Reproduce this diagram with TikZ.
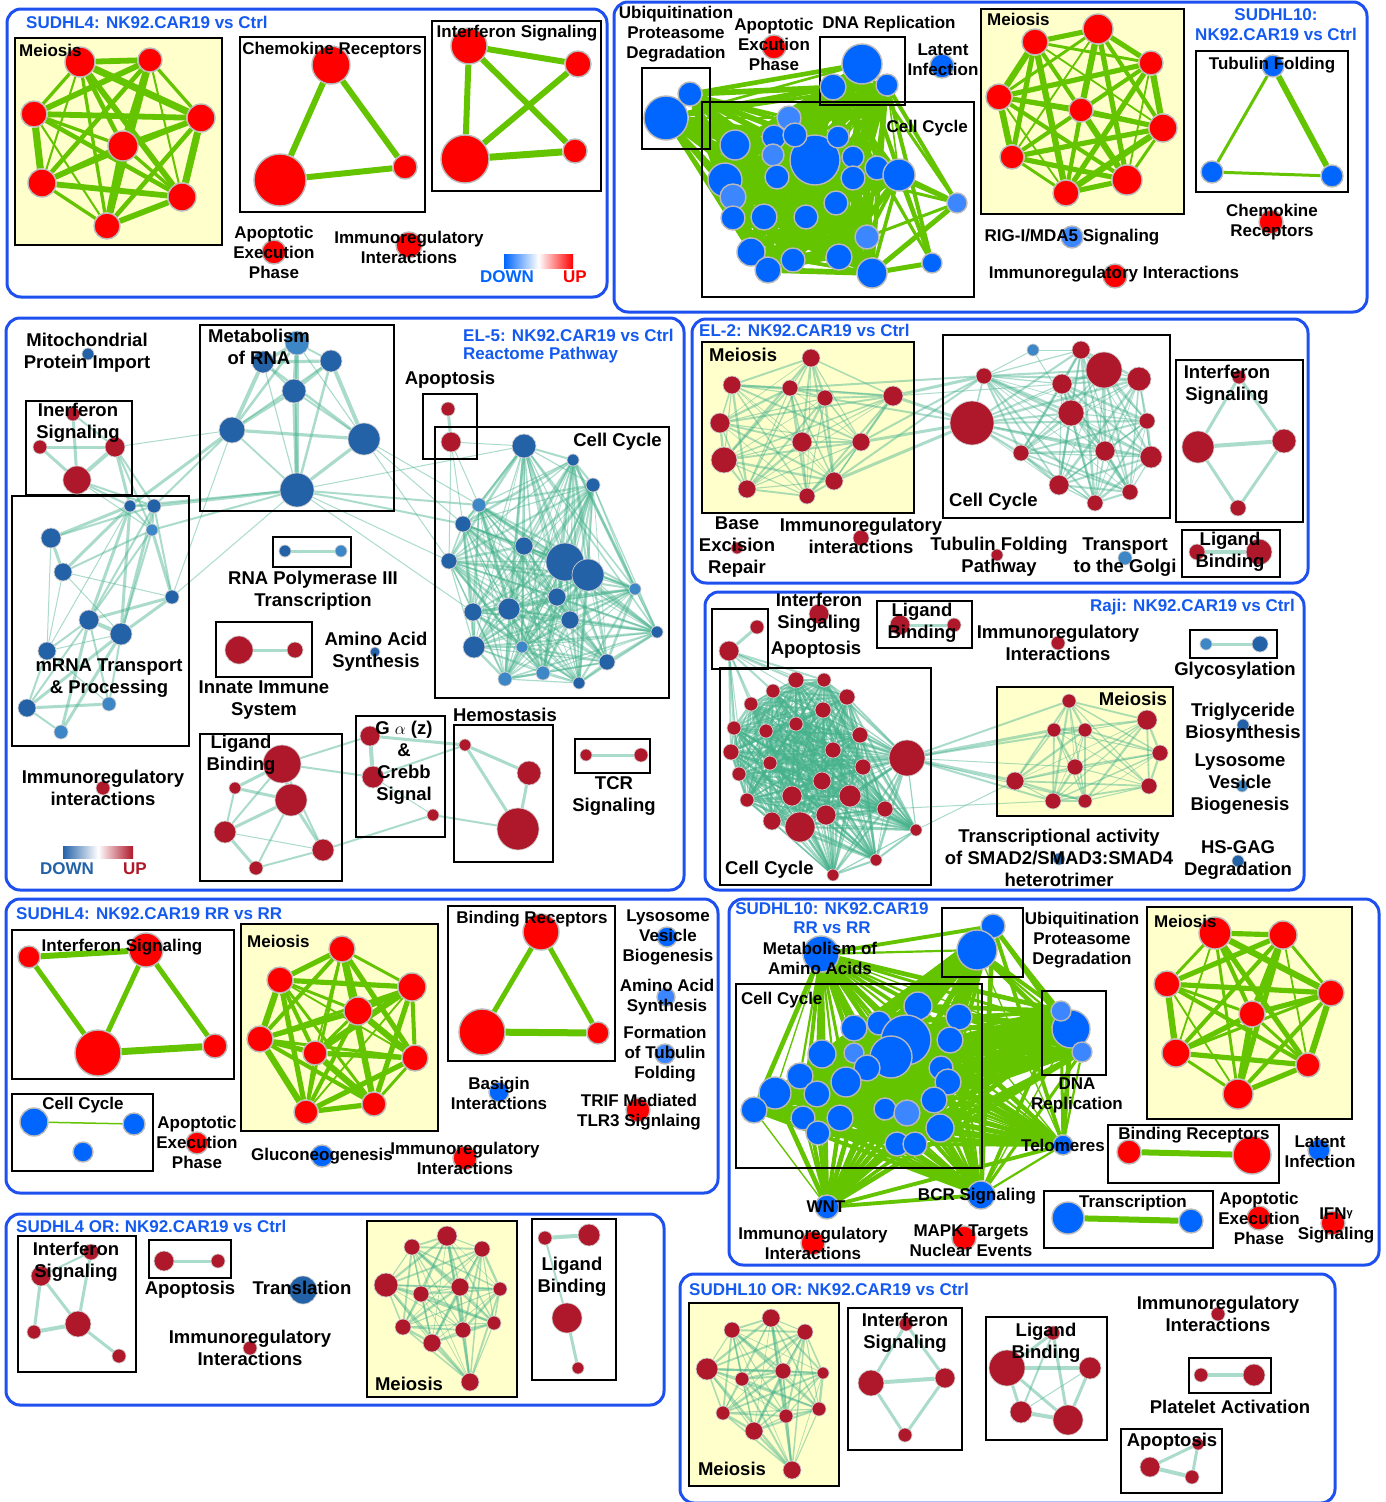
\documentclass[tikz,border=0pt]{standalone}
\usepackage{fontspec}
\setmainfont{Liberation Sans}
\pgfdeclarelayer{bgl}
\pgfdeclarelayer{edl}
\pgfsetlayers{bgl,edl,main}
\definecolor{panblue}{RGB}{30,80,240}
\definecolor{ttlblue}{RGB}{20,90,240}
\definecolor{meiyel}{RGB}{255,255,204}
\definecolor{rred}{RGB}{255,0,0}
\definecolor{bblue}{RGB}{0,102,255}
\definecolor{lblue}{RGB}{60,135,255}
\definecolor{dred}{RGB}{175,24,42}
\definecolor{dblue}{RGB}{36,98,168}
\definecolor{dlblue}{RGB}{62,135,198}
\definecolor{nbord}{RGB}{185,185,185}
\definecolor{dbord}{RGB}{205,205,205}
\definecolor{gedge}{RGB}{100,196,0}
\definecolor{tedge}{RGB}{70,178,140}
\newcommand\gnd[5]{\node[#5,minimum size=#4*2pt] (#1) at (#2,#3) {};}
\newcommand\clq[3]{\foreach \a [count=\i] in {#1}{\foreach \b [count=\j] in {#1}{\ifnum\j>\i\relax\pgfmathsetmacro\w{#3*(0.45+0.28*mod(\i*2+\j*3,5))}\draw[#2,line width=\w pt] (\a) -- (\b);\fi}}}
\newcommand\eds[2]{\foreach \a/\b/\w in {#2}{\draw[#1,line width=\w pt] (\a) -- (\b);}}
\begin{document}
\begin{tikzpicture}[x=1pt,y=-1pt,
 pan/.style={draw=panblue,line width=3pt,rounded corners=14pt},
 box/.style={draw=black,line width=2.2pt},
 ttl/.style={text=ttlblue,font=\fontsize{17}{20}\selectfont\bfseries,inner sep=0pt},
 lab/.style={font=\fontsize{17}{20}\selectfont\bfseries,align=center,inner sep=0pt},
 labl/.style={font=\fontsize{18.5}{22}\selectfont\bfseries,align=center,inner sep=0pt},
 gnode/.style={circle,inner sep=0pt,draw=nbord,line width=1.4pt},
 rn/.style={gnode,fill=rred}, bn/.style={gnode,fill=bblue}, bl/.style={gnode,fill=lblue},
 dnode/.style={circle,inner sep=0pt,draw=dbord,line width=0.7pt},
 dr/.style={dnode,fill=dred}, db/.style={dnode,fill=dblue}, dl/.style={dnode,fill=dlblue},
 ge/.style={draw=gedge},
 te/.style={draw=tedge,opacity=0.45},
 ted/.style={draw=tedge,opacity=0.55}]
\useasboundingbox (0,0) rectangle (1386,1502);
\begin{pgfonlayer}{bgl}
\fill[white] (0,0) rectangle (1386,1502);
\fill[meiyel] (15,38) rectangle (222,245);
\fill[meiyel] (981,9) rectangle (1184,214);
\fill[meiyel] (702,342) rectangle (914,513);
\fill[meiyel] (997,687) rectangle (1173,816);
\fill[meiyel] (241,924) rectangle (438,1131);
\fill[meiyel] (1147,907) rectangle (1352,1119);
\fill[meiyel] (367,1221) rectangle (517,1397);
\fill[meiyel] (689,1303) rectangle (839,1486);
\end{pgfonlayer}

%%%%%%%%%%%%%%%% Panel 1
\draw[pan] (7,9) rectangle (607,297);
\draw[box] (15,38) rectangle (222,245);
\draw[box] (240,37) rectangle (425,212);
\draw[box] (432,21) rectangle (601,191);
\gnd{a1}{80}{62}{15}{rn}\gnd{a2}{150}{60}{12}{rn}\gnd{a3}{34}{114}{13}{rn}\gnd{a4}{201}{118}{14}{rn}
\gnd{a5}{123}{146}{15}{rn}\gnd{a6}{42}{183}{14}{rn}\gnd{a7}{182}{197}{14}{rn}\gnd{a8}{107}{226}{13}{rn}
\gnd{a9}{331}{65}{19}{rn}\gnd{a10}{280}{180}{26}{rn}\gnd{a11}{405}{167}{12}{rn}
\gnd{a12}{469}{46}{18}{rn}\gnd{a13}{578}{64}{13}{rn}\gnd{a14}{465}{159}{24}{rn}\gnd{a15}{575}{151}{12}{rn}
\gnd{a16}{274}{252}{12}{rn}\gnd{a17}{409}{245}{13}{rn}
\node[ttl,anchor=west] (a-t) at (26,22) {SUDHL4: NK92.CAR19 vs Ctrl};
\node[lab,anchor=west] (a-l1) at (19,50) {Meiosis};
\node[lab] (a-l2) at (332,50) {Chemokine Receptors};
\node[lab] (a-l3) at (517,33) {Interferon Signaling};
\node[lab] (a-l4) at (274,252) {Apoptotic\\Execution\\Phase};
\node[lab] (a-l5) at (409,247) {Immunoregulatory\\Interactions};
\shade[left color=bblue,right color=rred,middle color=white] (504,254) rectangle (573,268);
\node[lab,text=bblue] (a-dn) at (507,277) {DOWN};
\node[lab,text=rred] (a-up) at (575,277) {UP};
\begin{pgfonlayer}{edl}
\clq{a1,a2,a3,a4,a5,a6,a7,a8}{ge}{4.5}
\eds{ge}{a9/a10/6,a9/a11/6,a10/a11/6,a12/a13/6,a12/a14/6,a12/a15/6,a14/a13/6,a14/a15/7}
\end{pgfonlayer}

%%%%%%%%%%%%%%%% Panel 2
\draw[pan] (614,2) rectangle (1367,312);
\draw[box] (642,68) rectangle (710,149);
\draw[box] (820,37) rectangle (905,105);
\draw[box] (702,102) rectangle (974,297);
\draw[box] (981,9) rectangle (1184,214);
\draw[box] (1196,51) rectangle (1348,192);
\gnd{bAp}{774}{47}{12}{rn}\gnd{bLa}{942}{66}{12}{bn}
\gnd{bU1}{666}{118}{22}{bn}\gnd{bU2}{690}{94}{12}{bn}
\gnd{bD1}{862}{64}{20}{bn}\gnd{bD2}{833}{87}{13}{bn}\gnd{bD3}{887}{85}{11}{bn}
\gnd{bC1}{789}{118}{12}{bl}\gnd{bC5}{815}{160}{25}{bn}\gnd{bC2}{735}{145}{15}{bn}\gnd{bC3}{774}{137}{12}{bn}
\gnd{bC4}{795}{135}{12}{bn}\gnd{bC6}{838}{137}{11}{bn}\gnd{bC7}{773}{155}{11}{bl}
\gnd{bC8}{853}{157}{11}{bn}\gnd{bC9}{877}{168}{12}{bn}\gnd{bC10}{899}{175}{16}{bn}\gnd{bC11}{725}{180}{17}{bn}
\gnd{bC12}{733}{197}{13}{bl}\gnd{bC13}{777}{177}{12}{bn}\gnd{bC14}{853}{178}{12}{bn}\gnd{bC15}{957}{203}{10}{bl}
\gnd{bC16}{733}{218}{12}{bn}\gnd{bC17}{764}{217}{13}{bn}\gnd{bC18}{806}{217}{12}{bn}\gnd{bC19}{836}{203}{12}{bn}
\gnd{bC20}{867}{237}{12}{bl}\gnd{bC21}{751}{252}{14}{bn}\gnd{bC22}{768}{270}{13}{bn}\gnd{bC23}{793}{260}{12}{bn}
\gnd{bC24}{839}{257}{13}{bn}\gnd{bC25}{872}{273}{15}{bn}\gnd{bC26}{932}{263}{10}{bn}
\gnd{bM1}{1035}{42}{13}{rn}\gnd{bM2}{1098}{29}{15}{rn}\gnd{bM3}{1151}{63}{12}{rn}\gnd{bM4}{999}{97}{13}{rn}
\gnd{bM5}{1081}{110}{12}{rn}\gnd{bM6}{1163}{128}{14}{rn}\gnd{bM7}{1012}{157}{12}{rn}\gnd{bM8}{1127}{180}{15}{rn}\gnd{bM9}{1066}{193}{13}{rn}
\gnd{bT1}{1273}{66}{11}{bn}\gnd{bT2}{1212}{172}{11}{bn}\gnd{bT3}{1332}{176}{11}{bn}
\gnd{bK}{1271}{222}{12}{rn}\gnd{bR}{1072}{237}{11}{bl}\gnd{bI}{1115}{276}{12}{rn}
\node[ttl,align=center] (b-t) at (1276,25) {SUDHL10:\\NK92.CAR19 vs Ctrl};
\node[lab] (b-l1) at (676,34) {Ubiquitination\\Proteasome\\Degradation};
\node[lab] (b-l2) at (774,44) {Apoptotic\\Excution\\Phase};
\node[lab] (b-l3) at (889,24) {DNA Replication};
\node[lab] (b-l4) at (943,60) {Latent\\Infection};
\node[lab,anchor=east] (b-l5) at (968,128) {Cell Cycle};
\node[lab,anchor=west] (b-l6) at (987,19) {Meiosis};
\node[lab] (b-l7) at (1272,65) {Tubulin Folding};
\node[lab] (b-l8) at (1272,222) {Chemokine\\Receptors};
\node[lab] (b-l9) at (1072,237) {RIG-I/MDA5 Signaling};
\node[lab] (b-l10) at (1114,274) {Immunoregulatory Interactions};
\begin{pgfonlayer}{edl}
\clq{bU1,bU2,bD1,bD2,bD3,bC1,bC2,bC3,bC4,bC5,bC6,bC7,bC8,bC9,bC10,bC11,bC12,bC13,bC14,bC16,bC17,bC18,bC19,bC20,bC21,bC22,bC23,bC24,bC25}{ge}{3.6}
\eds{ge}{bC15/bC10/5,bC15/bC9/4,bC15/bD3/4,bC15/bD1/3,bC15/bC25/5,bC15/bC20/3,bC15/bC14/3,bC26/bD3/4,bC26/bD1/3,bC26/bC10/4,bC26/bC25/5,bC26/bC9/3,bC26/bD2/2}
\clq{bM1,bM2,bM3,bM4,bM5,bM6,bM7,bM8,bM9}{ge}{4}
\eds{ge}{bT1/bT2/3,bT1/bT3/6,bT2/bT3/3}
\end{pgfonlayer}

%%%%%%%%%%%%%%%% Panel 3 (EL-5)
\draw[pan] (6,318) rectangle (684,890);
\draw[box] (26,401) rectangle (132,495);
\draw[box] (12,496) rectangle (189,746);
\draw[box] (200,325) rectangle (394,511);
\draw[box] (423,394) rectangle (477,459);
\draw[box] (435,427) rectangle (669,698);
\draw[box] (273,537) rectangle (351,567);
\draw[box] (216,622) rectangle (312,677);
\draw[box] (200,734) rectangle (342,881);
\draw[box] (356,716) rectangle (445,837);
\draw[box] (454,725) rectangle (553,862);
\draw[box] (575,739) rectangle (650,773);
\gnd{cMit}{88}{354}{6}{db}
\gnd{cI1}{73}{414}{7}{dr}\gnd{cI2}{40}{447}{7}{dr}\gnd{cI3}{115}{447}{10}{dr}\gnd{cI4}{77}{480}{14}{dr}
\gnd{cR1}{130}{506}{6}{db}\gnd{cR2}{154}{506}{7}{db}\gnd{cR3}{152}{530}{6}{dl}\gnd{cR4}{51}{538}{10}{db}
\gnd{cR5}{63}{572}{9}{db}\gnd{cR6}{172}{597}{7}{db}\gnd{cR7}{89}{620}{10}{db}\gnd{cR8}{121}{634}{11}{db}
\gnd{cR9}{47}{651}{9}{db}\gnd{cR10}{27}{708}{9}{db}\gnd{cR11}{109}{704}{7}{dl}\gnd{cR12}{61}{732}{7}{dl}
\gnd{cM1}{297}{343}{12}{dl}\gnd{cM2}{263}{362}{11}{db}\gnd{cM3}{331}{361}{11}{db}\gnd{cM4}{294}{391}{12}{db}
\gnd{cM5}{232}{430}{13}{db}\gnd{cM6}{364}{439}{16}{db}\gnd{cM7}{297}{490}{17}{db}
\gnd{cA1}{448}{409}{7}{dr}\gnd{cA2}{451}{442}{10}{dr}
\gnd{cC1}{524}{446}{12}{db}\gnd{cC2}{573}{460}{6}{db}\gnd{cC3}{593}{485}{7}{db}\gnd{cC4}{479}{505}{7}{dl}
\gnd{cC5}{463}{524}{8}{db}\gnd{cC6}{524}{546}{9}{db}\gnd{cC7}{565}{562}{19}{db}\gnd{cC8}{588}{575}{16}{db}
\gnd{cC9}{449}{561}{8}{db}\gnd{cC10}{635}{589}{6}{dl}\gnd{cC11}{557}{597}{9}{db}\gnd{cC12}{509}{609}{11}{db}
\gnd{cC13}{473}{612}{9}{db}\gnd{cC14}{570}{620}{9}{db}\gnd{cC15}{657}{632}{6}{db}\gnd{cC16}{474}{647}{11}{db}
\gnd{cC17}{522}{647}{6}{dl}\gnd{cC18}{607}{662}{8}{db}\gnd{cC19}{505}{679}{7}{dl}\gnd{cC20}{543}{673}{7}{dl}\gnd{cC21}{579}{683}{6}{db}
\gnd{cP1}{285}{551}{6}{db}\gnd{cP2}{341}{551}{6}{dl}
\gnd{cN1}{239}{650}{14}{dr}\gnd{cN2}{295}{650}{8}{dr}
\gnd{cAA}{375}{652}{5}{db}
\gnd{cL1}{282}{764}{19}{dr}\gnd{cL2}{235}{788}{6}{dr}\gnd{cL3}{291}{800}{16}{dr}\gnd{cL4}{225}{832}{11}{dr}
\gnd{cL5}{323}{850}{11}{dr}\gnd{cL6}{256}{868}{7}{dr}
\gnd{cG1}{370}{736}{10}{dr}\gnd{cG2}{373}{777}{11}{dr}\gnd{cG3}{433}{815}{6}{dr}
\gnd{cH1}{465}{745}{6}{dr}\gnd{cH2}{529}{773}{12}{dr}\gnd{cH3}{518}{829}{21}{dr}
\gnd{cT1}{586}{755}{6}{dr}\gnd{cT2}{641}{755}{7}{dr}
\gnd{cIm}{103}{788}{7}{dr}
\node[ttl,anchor=west] (c-t1) at (463,335) {EL-5: NK92.CAR19 vs Ctrl};
\node[ttl,anchor=west] (c-t2) at (463,355) {Reactome Pathway};
\node[labl] (c-l1) at (87,353) {Mitochondrial\\Protein Import};
\node[labl] (c-l2) at (78,423) {Inerferon\\Signaling};
\node[labl] (c-l3) at (109,678) {mRNA Transport\\\& Processing};
\node[labl] (c-l4) at (259,347) {Metabolism\\of RNA};
\node[labl] (c-l5) at (450,380) {Apoptosis};
\node[labl,anchor=east] (c-l6) at (662,442) {Cell Cycle};
\node[labl] (c-l7) at (313,591) {RNA Polymerase III\\Transcription};
\node[labl] (c-l8) at (264,700) {Innate Immune\\System};
\node[labl] (c-l9) at (376,652) {Amino Acid\\Synthesis};
\node[labl] (c-l10) at (241,755) {Ligand\\Binding};
\node[labl] (c-l11) at (404,763) {G $\alpha$ (z)\\\&\\Crebb\\Signal};
\node[labl] (c-l12) at (505,715) {Hemostasis};
\node[labl] (c-l13) at (614,796) {TCR\\Signaling};
\node[labl] (c-l14) at (103,788) {Immunoregulatory\\interactions};
\shade[left color=dblue,right color=dred,middle color=white] (63,846) rectangle (133,858);
\node[lab,text=dblue] (c-dn) at (67,869) {DOWN};
\node[lab,text=dred] (c-up) at (135,869) {UP};
\begin{pgfonlayer}{edl}
\eds{te}{cI1/cI4/3,cI2/cI3/3,cI2/cI4/3,cI3/cI4/4,cI1/cI3/2}
\clq{cM1,cM2,cM3,cM4,cM5,cM6,cM7}{te}{2.5}
\eds{te}{cR1/cR2/2,cR1/cR3/2,cR2/cR3/2,cR1/cR4/3,cR2/cR4/2,cR1/cR5/3,cR3/cR5/2,cR1/cR7/3,cR2/cR7/2,cR1/cR8/3,cR2/cR8/3,cR3/cR8/2,cR3/cR6/3,cR2/cR6/2,cR1/cR9/1,cR4/cR5/3,cR4/cR9/1,cR5/cR6/1,cR6/cR7/3,cR6/cR8/3,cR7/cR8/4,cR7/cR9/2,cR8/cR9/1,cR9/cR10/2,cR7/cR10/2,cR8/cR10/3,cR7/cR12/3,cR8/cR12/3,cR9/cR11/1,cR10/cR11/3,cR10/cR12/2,cR8/cR11/2,cR5/cR8/1,cR7/cR11/2,cR3/cR7/2,cR5/cR9/1}
\eds{te}{cI4/cR1/2,cI4/cR2/2,cI3/cR1/3,cI3/cR2/2,cI3/cR3/2,cI4/cR3/1,cR1/cM5/3,cR2/cM5/2,cR2/cM7/3,cR1/cM7/2,cR3/cM7/2,cR6/cM7/1,cR6/cM5/1,cI3/cM5/1}
\eds{te}{cM7/cC4/2,cM7/cC5/2,cM7/cC9/1,cM7/cC1/1,cM6/cC4/1,cM6/cC5/1,cM6/cC9/1,cM7/cC13/1}
\eds{te}{cA1/cA2/3,cA2/cC4/1,cA2/cC5/1,cA2/cC9/1,cA2/cC1/1}
\clq{cC1,cC2,cC3,cC4,cC5,cC6,cC7,cC8,cC9,cC10,cC11,cC12,cC13,cC14,cC15,cC16,cC17,cC18,cC19,cC20,cC21}{te}{1.6}
\eds{te}{cL1/cL2/3,cL1/cL3/4,cL1/cL4/2,cL2/cL3/3,cL3/cL4/3,cL3/cL5/3,cL4/cL5/1,cL4/cL6/3,cL3/cL6/2,cL6/cL5/2,cL1/cL5/2,cL2/cL4/2}
\eds{te}{cL1/cG1/2,cL1/cG2/2,cL5/cG3/2,cG1/cG2/4,cG1/cH1/3,cG2/cH1/2,cG3/cH3/2,cG2/cG3/1}
\eds{te}{cH1/cH2/3,cH1/cH3/3,cH2/cH3/3,cP1/cP2/3,cN1/cN2/3,cT1/cT2/3}
\end{pgfonlayer}

%%%%%%%%%%%%%%%% Panel 4 (EL-2)
\draw[pan] (692,319) rectangle (1308,583);
\draw[box] (702,342) rectangle (914,513);
\draw[box] (943,335) rectangle (1170,518);
\draw[box] (1176,360) rectangle (1303,522);
\draw[box] (1182,530) rectangle (1280,577);
\gnd{dM1}{811}{358}{9}{dr}\gnd{dM2}{732}{385}{9}{dr}\gnd{dM3}{790}{388}{8}{dr}\gnd{dM4}{825}{398}{8}{dr}
\gnd{dM5}{893}{396}{10}{dr}\gnd{dM6}{720}{423}{10}{dr}\gnd{dM7}{802}{442}{10}{dr}\gnd{dM8}{861}{442}{9}{dr}
\gnd{dM9}{724}{460}{13}{dr}\gnd{dM10}{747}{489}{9}{dr}\gnd{dM11}{807}{496}{8}{dr}\gnd{dM12}{834}{481}{9}{dr}
\gnd{dC1}{1033}{350}{6}{dl}\gnd{dC2}{1081}{350}{9}{dr}\gnd{dC3}{1104}{370}{18}{dr}\gnd{dC4}{984}{376}{8}{dr}
\gnd{dC5}{1139}{379}{12}{dr}\gnd{dC6}{1062}{384}{10}{dr}\gnd{dC7}{1071}{413}{13}{dr}\gnd{dC8}{972}{423}{22}{dr}
\gnd{dC9}{1147}{421}{8}{dr}\gnd{dC10}{1021}{453}{8}{dr}\gnd{dC11}{1105}{451}{10}{dr}\gnd{dC12}{1151}{457}{11}{dr}
\gnd{dC13}{1059}{485}{10}{dr}\gnd{dC14}{1130}{492}{8}{dr}\gnd{dC15}{1095}{503}{8}{dr}
\gnd{dI1}{1239}{377}{7}{dr}\gnd{dI2}{1198}{447}{16}{dr}\gnd{dI3}{1284}{441}{12}{dr}\gnd{dI4}{1238}{508}{8}{dr}
\gnd{dL1}{1197}{552}{8}{dr}\gnd{dL2}{1259}{552}{13}{dr}
\gnd{dBE}{737}{548}{6}{dr}\gnd{dIm}{861}{538}{8}{dr}\gnd{dTF}{997}{555}{6}{dr}\gnd{dTG}{1125}{558}{7}{dl}
\node[ttl,anchor=west] (d-t) at (699,330) {EL-2: NK92.CAR19 vs Ctrl};
\node[labl,anchor=west] (d-l1) at (709,355) {Meiosis};
\node[labl,anchor=west] (d-l2) at (949,502) {Cell Cycle};
\node[labl] (d-l3) at (1227,385) {Interferon\\Signaling};
\node[labl] (d-l4) at (1230,552) {Ligand\\Binding};
\node[labl] (d-l5) at (737,547) {Base\\Excision\\Repair};
\node[labl] (d-l6) at (861,536) {Immunoregulatory\\interactions};
\node[labl] (d-l7) at (999,557) {Tubulin Folding\\Pathway};
\node[labl] (d-l8) at (1125,557) {Transport\\to the Golgi};
\begin{pgfonlayer}{edl}
\clq{dM1,dM2,dM3,dM4,dM5,dM6,dM7,dM8,dM9,dM10,dM11,dM12}{te}{1.5}
\clq{dC2,dC3,dC4,dC5,dC6,dC7,dC8,dC9,dC10,dC11,dC12,dC13,dC14,dC15}{te}{1.6}
\eds{te}{dC1/dC2/1,dC1/dC4/1,dC1/dC7/1,dM5/dC4/3,dM5/dC8/3,dM8/dC8/3,dM12/dC8/3,dM12/dC4/2,dM8/dC4/2,dM5/dC6/1,dM4/dC8/2,dM3/dC4/2}
\eds{te}{dI1/dI2/3,dI1/dI3/3,dI2/dI3/4,dI2/dI4/3,dI3/dI4/3,dL1/dL2/4}
\end{pgfonlayer}

%%%%%%%%%%%%%%%% Panel 5 (Raji)
\draw[pan] (705,592) rectangle (1304,890);
\draw[box] (712,609) rectangle (768,669);
\draw[box] (877,601) rectangle (972,648);
\draw[box] (1190,630) rectangle (1277,658);
\draw[box] (720,668) rectangle (931,885);
\draw[box] (997,687) rectangle (1173,816);
\gnd{eA1}{757}{627}{7}{dr}\gnd{eA2}{729}{651}{10}{dr}\gnd{eIF}{819}{614}{10}{dr}
\gnd{eL1}{900}{625}{10}{dr}\gnd{eL2}{954}{625}{7}{dr}\gnd{eIm}{1058}{643}{7}{dr}
\gnd{eG1}{1206}{644}{6}{dl}\gnd{eG2}{1260}{644}{8}{db}
\gnd{eTr}{1243}{725}{6}{db}\gnd{eLy}{1242}{786}{6}{dl}\gnd{eHS}{1238}{861}{6}{db}\gnd{eSM}{1059}{859}{6}{db}
\gnd{eC1}{796}{680}{8}{dr}\gnd{eC2}{824}{680}{7}{dr}\gnd{eC3}{773}{691}{7}{dr}\gnd{eC4}{847}{697}{8}{dr}
\gnd{eC5}{751}{704}{7}{dr}\gnd{eC6}{823}{710}{8}{dr}\gnd{eC7}{796}{724}{7}{dr}\gnd{eC8}{734}{728}{7}{dr}
\gnd{eC9}{766}{731}{7}{dr}\gnd{eC10}{860}{735}{8}{dr}\gnd{eC11}{833}{750}{8}{dr}\gnd{eC12}{731}{752}{8}{dr}
\gnd{eC13}{907}{758}{18}{dr}\gnd{eC14}{770}{763}{7}{dr}\gnd{eC15}{863}{767}{8}{dr}\gnd{eC16}{739}{774}{7}{dr}
\gnd{eC17}{822}{781}{9}{dr}\gnd{eC18}{792}{796}{10}{dr}\gnd{eC19}{850}{796}{11}{dr}\gnd{eC20}{747}{800}{7}{dr}
\gnd{eC21}{885}{809}{8}{dr}\gnd{eC22}{826}{815}{10}{dr}\gnd{eC23}{772}{821}{9}{dr}\gnd{eC24}{800}{827}{15}{dr}
\gnd{eC25}{916}{830}{6}{dr}\gnd{eC26}{876}{860}{6}{dr}\gnd{eC27}{833}{875}{6}{dr}
\gnd{eM1}{1069}{701}{7}{dr}\gnd{eM2}{1147}{720}{10}{dr}\gnd{eM3}{1054}{730}{7}{dr}\gnd{eM4}{1085}{730}{7}{dr}
\gnd{eM5}{1160}{753}{8}{dr}\gnd{eM6}{1075}{767}{8}{dr}\gnd{eM7}{1015}{781}{9}{dr}\gnd{eM8}{1149}{786}{8}{dr}
\gnd{eM9}{1053}{801}{8}{dr}\gnd{eM10}{1085}{801}{7}{dr}
\node[ttl,anchor=east] (e-t) at (1295,607) {Raji: NK92.CAR19 vs Ctrl};
\node[labl] (e-l1) at (819,613) {Interferon\\Singaling};
\node[labl] (e-l2) at (816,650) {Apoptosis};
\node[labl] (e-l3) at (922,623) {Ligand\\Binding};
\node[labl] (e-l4) at (1058,643) {Immunoregulatory\\Interactions};
\node[labl] (e-l5) at (1235,671) {Glycosylation};
\node[labl] (e-l6) at (1243,723) {Triglyceride\\Biosynthesis};
\node[labl] (e-l7) at (1240,784) {Lysosome\\Vesicle\\Biogenesis};
\node[labl] (e-l8) at (1238,860) {HS-GAG\\Degradation};
\node[labl] (e-l9) at (1059,858) {Transcriptional activity\\of SMAD2/SMAD3:SMAD4\\heterotrimer};
\node[labl,anchor=west] (e-l10) at (725,870) {Cell Cycle};
\node[labl,anchor=east] (e-l11) at (1167,699) {Meiosis};
\begin{pgfonlayer}{edl}
\clq{eC1,eC2,eC3,eC4,eC5,eC6,eC7,eC8,eC9,eC10,eC11,eC12,eC13,eC14,eC15,eC16,eC17,eC18,eC19,eC20,eC21,eC22,eC23,eC24,eC25,eC26,eC27}{ted}{1.6}
\clq{eM1,eM2,eM3,eM4,eM5,eM6,eM7,eM8,eM9,eM10}{te}{1.4}
\eds{te}{eC13/eM1/2,eC13/eM3/3,eC13/eM4/2,eC13/eM7/3,eC13/eM9/2,eC13/eM6/1,eC13/eM10/1,eC25/eM7/1,eC21/eM9/1}
\eds{te}{eA1/eA2/3,eA2/eC1/2,eA2/eC2/2,eA2/eC3/2,eA2/eC5/2,eA2/eC8/2,eA2/eC12/2,eA2/eC16/1,eA2/eC20/1,eA2/eC9/1,eA2/eC4/1,eA2/eC13/1}
\eds{te}{eL1/eL2/3,eG1/eG2/3}
\end{pgfonlayer}

%%%%%%%%%%%%%%%% Panel 6
\draw[pan] (6,899) rectangle (718,1193);
\draw[box] (12,930) rectangle (234,1079);
\draw[box] (241,924) rectangle (438,1131);
\draw[box] (448,906) rectangle (615,1061);
\draw[box] (12,1094) rectangle (153,1171);
\gnd{fI1}{29}{957}{11}{rn}\gnd{fI2}{146}{950}{17}{rn}\gnd{fI3}{98}{1053}{23}{rn}\gnd{fI4}{215}{1046}{12}{rn}
\gnd{fM1}{342}{949}{13}{rn}\gnd{fM2}{280}{980}{13}{rn}\gnd{fM3}{412}{987}{14}{rn}\gnd{fM4}{358}{1011}{14}{rn}
\gnd{fM5}{260}{1039}{13}{rn}\gnd{fM6}{315}{1053}{12}{rn}\gnd{fM7}{415}{1058}{13}{rn}\gnd{fM8}{306}{1112}{12}{rn}\gnd{fM9}{374}{1104}{12}{rn}
\gnd{fB1}{541}{932}{18}{rn}\gnd{fB2}{482}{1032}{23}{rn}\gnd{fB3}{598}{1033}{11}{rn}
\gnd{fC1}{34}{1122}{14}{bn}\gnd{fC2}{134}{1124}{11}{bn}\gnd{fC3}{83}{1152}{10}{bn}
\gnd{fAp}{197}{1143}{11}{rn}\gnd{fGl}{322}{1156}{11}{bn}\gnd{fIm}{465}{1158}{12}{rn}\gnd{fBa}{499}{1092}{10}{bn}
\gnd{fLy}{667}{937}{10}{bn}\gnd{fAA}{666}{997}{9}{bl}\gnd{fFT}{665}{1054}{10}{bl}\gnd{fTR}{638}{1110}{12}{rn}
\node[ttl,anchor=west] (f-t) at (16,914) {SUDHL4: NK92.CAR19 RR vs RR};
\node[lab] (f-l1) at (122,947) {Interferon Signaling};
\node[lab,anchor=west] (f-l2) at (247,941) {Meiosis};
\node[lab] (f-l3) at (532,919) {Binding Receptors};
\node[lab] (f-l4) at (83,1105) {Cell Cycle};
\node[lab] (f-l5) at (197,1142) {Apoptotic\\Execution\\Phase};
\node[lab] (f-l6) at (322,1156) {Gluconeogenesis};
\node[lab] (f-l7) at (465,1158) {Immunoregulatory\\Interactions};
\node[lab] (f-l8) at (499,1093) {Basigin\\Interactions};
\node[lab] (f-l9) at (668,937) {Lysosome\\Vesicle\\Biogenesis};
\node[lab] (f-l10) at (667,997) {Amino Acid\\Synthesis};
\node[lab] (f-l11) at (665,1054) {Formation\\of Tubulin\\Folding};
\node[lab] (f-l12) at (639,1112) {TRIF Mediated\\TLR3 Signlaing};
\begin{pgfonlayer}{edl}
\eds{ge}{fI1/fI2/6,fI1/fI3/5,fI2/fI3/5,fI2/fI4/5,fI3/fI4/7,fB1/fB2/5,fB1/fB3/5,fB2/fB3/7,fC1/fC2/1.5}
\clq{fM1,fM2,fM3,fM4,fM5,fM6,fM7,fM8,fM9}{ge}{4}
\end{pgfonlayer}

%%%%%%%%%%%%%%%% Panel 7
\draw[pan] (729,899) rectangle (1379,1265);
\draw[box] (942,908) rectangle (1023,977);
\draw[box] (1042,991) rectangle (1106,1075);
\draw[box] (736,984) rectangle (982,1168);
\draw[box] (1147,907) rectangle (1352,1119);
\draw[box] (1108,1125) rectangle (1279,1183);
\draw[box] (1044,1191) rectangle (1213,1248);
\gnd{gMA}{821}{954}{18}{bn}
\gnd{gU1}{993}{926}{12}{bn}\gnd{gU2}{977}{950}{20}{bn}
\gnd{gD2}{1071}{1029}{19}{bn}\gnd{gD1}{1061}{1011}{10}{bl}\gnd{gD3}{1082}{1052}{10}{bl}
\gnd{gC1}{918}{1006}{14}{bn}\gnd{gC2}{959}{1017}{13}{bn}\gnd{gC3}{854}{1028}{13}{bn}\gnd{gC4}{879}{1023}{12}{bn}
\gnd{gC5}{906}{1040}{25}{bn}\gnd{gC6}{950}{1040}{13}{bn}\gnd{gC7}{822}{1054}{14}{bn}\gnd{gC8}{854}{1053}{10}{bl}
\gnd{gC9}{891}{1057}{21}{bn}\gnd{gC10}{867}{1068}{13}{bn}\gnd{gC11}{941}{1068}{12}{bn}\gnd{gC12}{800}{1076}{13}{bn}
\gnd{gC13}{948}{1082}{13}{bn}\gnd{gC14}{846}{1082}{15}{bn}\gnd{gC15}{775}{1093}{16}{bn}\gnd{gC16}{817}{1094}{13}{bn}
\gnd{gC17}{934}{1100}{13}{bn}\gnd{gC18}{754}{1110}{13}{bn}\gnd{gC19}{885}{1109}{11}{bn}\gnd{gC20}{907}{1113}{13}{bl}
\gnd{gC21}{803}{1118}{12}{bn}\gnd{gC22}{840}{1118}{13}{bn}\gnd{gC23}{940}{1128}{14}{bn}\gnd{gC24}{818}{1133}{12}{bn}
\gnd{gC25}{897}{1144}{12}{bn}\gnd{gC26}{915}{1144}{12}{bn}
\gnd{gTe}{1063}{1145}{10}{bn}\gnd{gW}{827}{1207}{12}{bn}\gnd{gB}{981}{1195}{14}{bn}
\gnd{gIm}{813}{1243}{12}{rn}\gnd{gMK}{964}{1238}{12}{rn}
\gnd{gM1}{1215}{933}{16}{rn}\gnd{gM2}{1283}{935}{14}{rn}\gnd{gM3}{1167}{984}{13}{rn}\gnd{gM4}{1331}{993}{13}{rn}
\gnd{gM5}{1252}{1014}{13}{rn}\gnd{gM6}{1176}{1053}{14}{rn}\gnd{gM7}{1308}{1065}{12}{rn}\gnd{gM8}{1238}{1094}{15}{rn}
\gnd{gBR1}{1129}{1152}{12}{rn}\gnd{gBR2}{1252}{1155}{19}{rn}
\gnd{gLa}{1319}{1150}{11}{bn}
\gnd{gT1}{1068}{1218}{16}{bn}\gnd{gT2}{1191}{1221}{12}{bn}
\gnd{gAp}{1259}{1218}{12}{rn}\gnd{gIF}{1333}{1223}{12}{rn}
\node[ttl,align=center,font=\fontsize{17}{19}\selectfont\bfseries] (g-t) at (832,918.5) {SUDHL10: NK92.CAR19\\RR vs RR};
\node[lab] (g-l1) at (820,958) {Metabolism of\\Amino Acids};
\node[lab] (g-l2) at (1082,940) {Ubiquitination\\Proteasome\\Degradation};
\node[lab] (g-l3) at (1077,1095) {DNA\\Replication};
\node[lab,anchor=west] (g-l4) at (741,1000) {Cell Cycle};
\node[lab] (g-l5) at (1063,1145) {Telomeres};
\node[lab] (g-l6) at (826,1207) {WNT};
\node[lab] (g-l7) at (977,1196) {BCR Signaling};
\node[lab] (g-l8) at (813,1243) {Immunoregulatory\\Interactions};
\node[lab] (g-l9) at (971,1241) {MAPK Targets\\Nuclear Events};
\node[lab,anchor=west] (g-l10) at (1154,921) {Meiosis};
\node[lab] (g-l11) at (1194,1135) {Binding Receptors};
\node[lab] (g-l12) at (1320,1152) {Latent\\Infection};
\node[lab] (g-l13) at (1133,1203) {Transcription};
\node[lab] (g-l14) at (1259,1218) {Apoptotic\\Execution\\Phase};
\node[lab] (g-l15) at (1336,1225) {IFN\raisebox{3pt}{\fontsize{11}{11}\selectfont γ}\\Signaling};
\begin{pgfonlayer}{edl}
\clq{gMA,gU1,gU2,gD1,gD2,gD3,gC1,gC2,gC3,gC4,gC5,gC6,gC7,gC8,gC9,gC10,gC11,gC12,gC13,gC14,gC15,gC16,gC17,gC18,gC19,gC20,gC21,gC22,gC23,gC24,gC25,gC26,gTe,gW,gB}{ge}{3}
\clq{gM1,gM2,gM3,gM4,gM5,gM6,gM7,gM8}{ge}{4}
\eds{ge}{gBR1/gBR2/6,gT1/gT2/6}
\end{pgfonlayer}

%%%%%%%%%%%%%%%% Panel 8
\draw[pan] (6,1214) rectangle (664,1405);
\draw[box] (18,1236) rectangle (136,1372);
\draw[box] (149,1240) rectangle (231,1278);
\draw[box] (367,1221) rectangle (517,1397);
\draw[box] (532,1219) rectangle (616,1380);
\gnd{hI1}{91}{1252}{8}{dr}\gnd{hI2}{41}{1276}{10}{dr}\gnd{hI3}{78}{1324}{13}{dr}\gnd{hI4}{34}{1332}{7}{dr}\gnd{hI5}{119}{1356}{7}{dr}
\gnd{hA1}{164}{1261}{10}{dr}\gnd{hA2}{218}{1261}{7}{dr}
\gnd{hTr}{303}{1290}{14}{db}\gnd{hIm}{250}{1348}{7}{dr}
\gnd{hM1}{447}{1236}{10}{dr}\gnd{hM2}{412}{1247}{8}{dr}\gnd{hM3}{482}{1249}{8}{dr}\gnd{hM4}{386}{1285}{12}{dr}
\gnd{hM5}{460}{1287}{9}{dr}\gnd{hM6}{500}{1289}{7}{dr}\gnd{hM7}{421}{1294}{8}{dr}\gnd{hM8}{403}{1327}{8}{dr}
\gnd{hM9}{463}{1330}{8}{dr}\gnd{hM10}{494}{1323}{7}{dr}\gnd{hM11}{432}{1343}{9}{dr}\gnd{hM12}{470}{1382}{9}{dr}
\gnd{hL1}{545}{1238}{7}{dr}\gnd{hL2}{589}{1235}{11}{dr}\gnd{hL3}{567}{1318}{15}{dr}\gnd{hL4}{578}{1368}{6}{dr}
\node[ttl,anchor=west] (h-t) at (16,1226) {SUDHL4 OR: NK92.CAR19 vs Ctrl};
\node[labl] (h-l1) at (76,1262) {Interferon\\Signaling};
\node[labl] (h-l2) at (190,1290) {Apoptosis};
\node[labl] (h-l3) at (302,1288) {Translation};
\node[labl] (h-l4) at (250,1348) {Immunoregulatory\\Interactions};
\node[labl] (h-l5) at (409,1384) {Meiosis};
\node[labl] (h-l6) at (572,1277) {Ligand\\Binding};
\begin{pgfonlayer}{edl}
\eds{te}{hI1/hI3/3,hI2/hI3/3,hI2/hI4/3,hI4/hI3/4,hI3/hI5/3,hI1/hI2/2,hA1/hA2/3,hL1/hL2/4,hL1/hL3/2,hL3/hL4/3}
\clq{hM1,hM2,hM3,hM4,hM5,hM6,hM7,hM8,hM9,hM10,hM11,hM12}{te}{1.5}
\end{pgfonlayer}

%%%%%%%%%%%%%%%% Panel 9
\draw[pan] (680,1274) rectangle (1335,1503);
\draw[box] (689,1303) rectangle (839,1486);
\draw[box] (848,1308) rectangle (962,1450);
\draw[box] (986,1317) rectangle (1107,1440);
\draw[box] (1189,1358) rectangle (1271,1393);
\draw[box] (1121,1429) rectangle (1222,1493);
\gnd{iM1}{771}{1318}{9}{dr}\gnd{iM2}{732}{1330}{8}{dr}\gnd{iM3}{805}{1332}{8}{dr}\gnd{iM4}{707}{1369}{11}{dr}
\gnd{iM5}{783}{1371}{8}{dr}\gnd{iM6}{742}{1379}{7}{dr}\gnd{iM7}{823}{1373}{6}{dr}\gnd{iM8}{723}{1413}{7}{dr}
\gnd{iM9}{786}{1416}{7}{dr}\gnd{iM10}{819}{1409}{7}{dr}\gnd{iM11}{754}{1431}{9}{dr}\gnd{iM12}{792}{1470}{9}{dr}
\gnd{iI1}{906}{1324}{7}{dr}\gnd{iI2}{871}{1383}{13}{dr}\gnd{iI3}{945}{1378}{10}{dr}\gnd{iI4}{905}{1435}{7}{dr}
\gnd{iL1}{1053}{1333}{7}{dr}\gnd{iL2}{1007}{1368}{18}{dr}\gnd{iL3}{1090}{1368}{11}{dr}\gnd{iL4}{1021}{1412}{11}{dr}\gnd{iL5}{1068}{1420}{15}{dr}
\gnd{iIm}{1218}{1314}{7}{dr}\gnd{iP1}{1201}{1375}{7}{dr}\gnd{iP2}{1254}{1375}{11}{dr}
\gnd{iA1}{1198}{1444}{6}{dr}\gnd{iA2}{1150}{1467}{10}{dr}\gnd{iA3}{1192}{1477}{7}{dr}
\node[ttl,anchor=west] (i-t) at (689,1289) {SUDHL10 OR: NK92.CAR19 vs Ctrl};
\node[labl] (i-l1) at (732,1469) {Meiosis};
\node[labl] (i-l2) at (905,1333) {Interferon\\Signaling};
\node[labl] (i-l3) at (1046,1343) {Ligand\\Binding};
\node[labl] (i-l4) at (1218,1314) {Immunoregulatory\\Interactions};
\node[labl] (i-l5) at (1230,1407) {Platelet Activation};
\node[labl] (i-l6) at (1172,1442) {Apoptosis};
\begin{pgfonlayer}{edl}
\clq{iM1,iM2,iM3,iM4,iM5,iM6,iM7,iM8,iM9,iM10,iM11,iM12}{te}{1.5}
\eds{te}{iI1/iI2/3,iI1/iI3/3,iI2/iI3/4,iI2/iI4/3,iI3/iI4/3,iL1/iL2/3,iL1/iL5/3,iL1/iL4/2,iL2/iL3/4,iL2/iL4/3,iL2/iL5/3,iL4/iL5/4,iL4/iL3/1,iL3/iL5/3,iP1/iP2/4,iA1/iA2/3,iA1/iA3/3,iA2/iA3/4}
\end{pgfonlayer}
\end{tikzpicture}
\end{document}
